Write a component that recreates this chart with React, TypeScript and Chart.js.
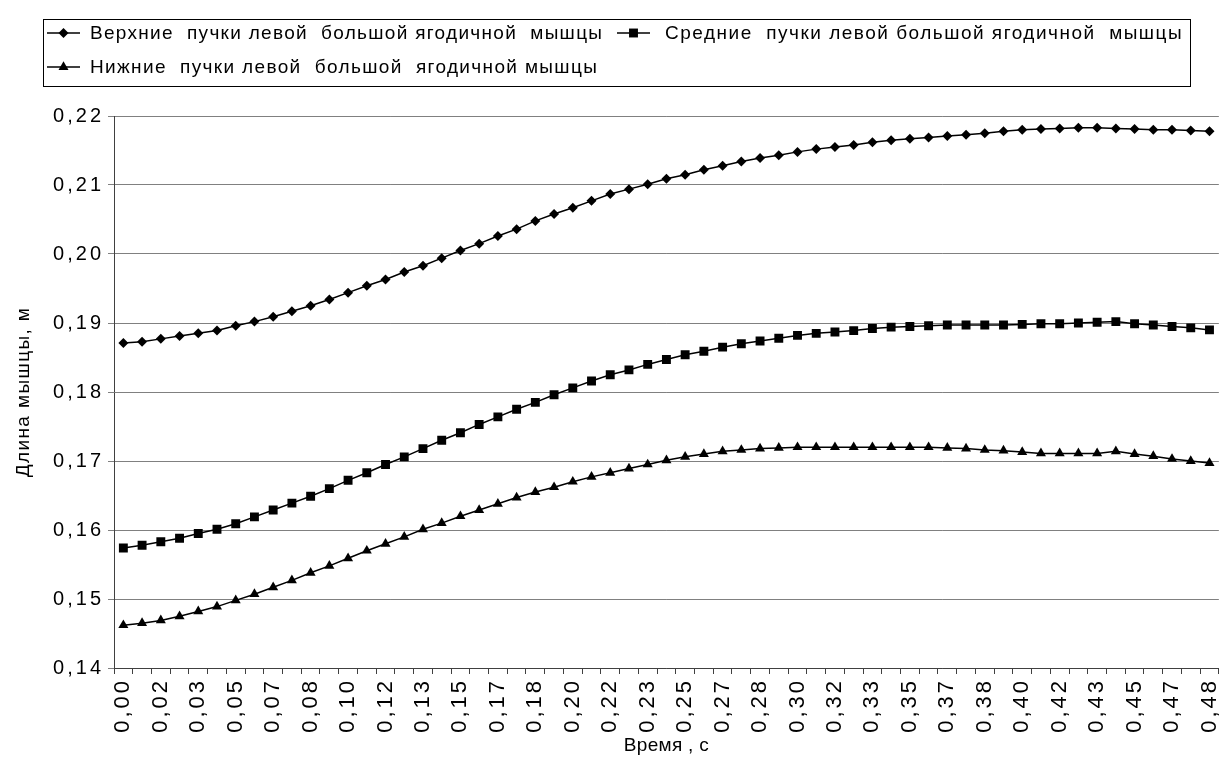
import React, { useEffect, useRef } from 'react';
import { Chart, registerables } from 'chart.js';

Chart.register(...registerables);

// Tick labels shown on every second category (time, s)
const tickLabels = [
  '0,00', '0,02', '0,03', '0,05', '0,07', '0,08', '0,10', '0,12', '0,13', '0,15',
  '0,17', '0,18', '0,20', '0,22', '0,23', '0,25', '0,27', '0,28', '0,30', '0,32',
  '0,33', '0,35', '0,37', '0,38', '0,40', '0,42', '0,43', '0,45', '0,47', '0,48',
];

const upperBundle = [
  0.1871, 0.1873, 0.1877, 0.1881, 0.1885, 0.1889, 0.1896, 0.1902, 0.1909, 0.1917,
  0.1925, 0.1934, 0.1944, 0.1954, 0.1963, 0.1974, 0.1983, 0.1994, 0.2005, 0.2015,
  0.2026, 0.2036, 0.2048, 0.2058, 0.2067, 0.2077, 0.2087, 0.2094, 0.2101, 0.2109,
  0.2115, 0.2122, 0.2128, 0.2134, 0.2139, 0.2143, 0.2148, 0.2152, 0.2155, 0.2158,
  0.2162, 0.2165, 0.2167, 0.2169, 0.2171, 0.2173, 0.2175, 0.2178, 0.2180, 0.2181,
  0.2182, 0.2183, 0.2183, 0.2182, 0.2181, 0.2180, 0.2180, 0.2179, 0.2178,
];

const middleBundle = [
  0.1574, 0.1578, 0.1583, 0.1588, 0.1595, 0.1601, 0.1609, 0.1619, 0.1629, 0.1639,
  0.1649, 0.1660, 0.1672, 0.1683, 0.1695, 0.1706, 0.1718, 0.1730, 0.1741, 0.1753,
  0.1764, 0.1775, 0.1785, 0.1796, 0.1806, 0.1816, 0.1825, 0.1832, 0.1840, 0.1847,
  0.1854, 0.1859, 0.1865, 0.1870, 0.1874, 0.1878, 0.1882, 0.1885, 0.1887, 0.1889,
  0.1892, 0.1894, 0.1895, 0.1896, 0.1897, 0.1897, 0.1897, 0.1897, 0.1898, 0.1899,
  0.1899, 0.1900, 0.1901, 0.1902, 0.1899, 0.1897, 0.1895, 0.1893, 0.1890,
];

const lowerBundle = [
  0.1462, 0.1465, 0.1469, 0.1475, 0.1482, 0.1489, 0.1498, 0.1507, 0.1517, 0.1527,
  0.1538, 0.1548, 0.1559, 0.1570, 0.1580, 0.1590, 0.1601, 0.1610, 0.1620, 0.1629,
  0.1638, 0.1647, 0.1655, 0.1662, 0.1670, 0.1677, 0.1683, 0.1689, 0.1695, 0.1701,
  0.1706, 0.1710, 0.1714, 0.1716, 0.1718, 0.1719, 0.1720, 0.1720, 0.1720, 0.1720,
  0.1720, 0.1720, 0.1720, 0.1720, 0.1719, 0.1718, 0.1716, 0.1715, 0.1713, 0.1711,
  0.1711, 0.1711, 0.1711, 0.1714, 0.1710, 0.1707, 0.1703, 0.1700, 0.1697,
];

const seriesNames = [
  'Верхние  пучки левой  большой ягодичной  мышцы',
  'Средние  пучки левой большой ягодичной  мышцы',
  'Нижние  пучки левой  большой  ягодичной мышцы',
];

const yTitle = 'Длина мышцы, м';
const xTitle = 'Время , с';

const yMin = 0.14;
const yMax = 0.22;
const yStep = 0.01;

// categories: one per sample, label only on every second one
const categories: string[] = [];
upperBundle.forEach((_, i) => {
  categories.push(i % 2 === 0 ? tickLabels[i / 2] : '');
});

const FONT_FAMILY = "'Liberation Sans', Arial, sans-serif";

function addSpacing(scale: any, labelSpacing: string, titleSpacing: string) {
  if (scale.__spaced) return;
  scale.__spaced = true;
  const origLabels = scale.drawLabels;
  scale.drawLabels = function (area: any) {
    const ctx = this.ctx;
    ctx.save();
    ctx.letterSpacing = labelSpacing;
    origLabels.call(this, area);
    ctx.restore();
  };
  const origTitle = scale.drawTitle;
  scale.drawTitle = function () {
    const ctx = this.ctx;
    ctx.save();
    ctx.letterSpacing = titleSpacing;
    origTitle.call(this);
    ctx.restore();
  };
}

function drawMarker(ctx: CanvasRenderingContext2D, style: string, r: number, x: number, y: number) {
  ctx.beginPath();
  if (style === 'rectRot') {
    ctx.moveTo(x - r, y);
    ctx.lineTo(x, y - r);
    ctx.lineTo(x + r, y);
    ctx.lineTo(x, y + r);
  } else if (style === 'rect') {
    const s = Math.SQRT1_2 * r;
    ctx.rect(x - s, y - s, 2 * s, 2 * s);
  } else {
    ctx.moveTo(x, y - r);
    ctx.lineTo(x + 0.866 * r, y + 0.5 * r);
    ctx.lineTo(x - 0.866 * r, y + 0.5 * r);
  }
  ctx.closePath();
  ctx.fill();
}

const legendPlugin = {
  id: 'boxLegend',
  afterDraw(chart: any) {
    const ctx: CanvasRenderingContext2D = chart.ctx;
    const positions = [
      { x: 47, y: 33, tx: 90, ls: '1.3px' },
      { x: 617, y: 33, tx: 665, ls: '1.5px' },
      { x: 47, y: 67, tx: 90, ls: '1.35px' },
    ];
    ctx.save();
    ctx.strokeStyle = '#000';
    ctx.lineWidth = 1;
    ctx.strokeRect(43.5, 19.5, 1147, 67);
    ctx.font = `19px ${FONT_FAMILY}`;
    ctx.textBaseline = 'middle';
    ctx.textAlign = 'left';
    chart.data.datasets.forEach((ds: any, i: number) => {
      const p = positions[i];
      ctx.strokeStyle = '#000';
      ctx.lineWidth = 1.5;
      ctx.beginPath();
      ctx.moveTo(p.x, p.y);
      ctx.lineTo(p.x + 33, p.y);
      ctx.stroke();
      ctx.fillStyle = '#000';
      drawMarker(ctx, ds.pointStyle, ds.pointRadius, p.x + 16.5, p.y);
      (ctx as any).letterSpacing = p.ls;
      ctx.fillText(ds.label, p.tx, p.y + 1);
      (ctx as any).letterSpacing = '0px';
    });
    ctx.restore();
  },
};

export default function App() {
  const canvasRef = useRef<HTMLCanvasElement | null>(null);

  useEffect(() => {
    if (!canvasRef.current) return;
    const chart = new Chart(canvasRef.current, {
      type: 'line',
      data: {
        labels: categories,
        datasets: [
          {
            label: seriesNames[0],
            data: upperBundle,
            borderColor: '#000',
            backgroundColor: '#000',
            borderWidth: 1.5,
            pointStyle: 'rectRot',
            pointRadius: 5,
            pointBorderWidth: 0,
            pointBackgroundColor: '#000',
            tension: 0,
          },
          {
            label: seriesNames[1],
            data: middleBundle,
            borderColor: '#000',
            backgroundColor: '#000',
            borderWidth: 1.5,
            pointStyle: 'rect',
            pointRadius: 6.3,
            pointBorderWidth: 0,
            pointBackgroundColor: '#000',
            tension: 0,
          },
          {
            label: seriesNames[2],
            data: lowerBundle,
            borderColor: '#000',
            backgroundColor: '#000',
            borderWidth: 1.5,
            pointStyle: 'triangle',
            pointRadius: 5.8,
            pointBorderWidth: 0,
            pointBackgroundColor: '#000',
            tension: 0,
          },
        ],
      },
      options: {
        responsive: false,
        devicePixelRatio: 1,
        animation: false,
        layout: { padding: { top: 116, right: 14, left: 0, bottom: 0 } },
        plugins: {
          legend: { display: false },
          tooltip: { enabled: false },
        },
        scales: {
          x: {
            type: 'category',
            offset: true,
            grid: {
              offset: true,
              drawOnChartArea: false,
              drawTicks: true,
              tickLength: 6,
              color: '#404040',
              lineWidth: 1,
            },
            border: { display: true, color: '#404040', width: 1 },
            ticks: {
              autoSkip: false,
              maxRotation: 90,
              minRotation: 90,
              padding: 4,
              color: '#000',
              font: { family: FONT_FAMILY, size: 22 },
              callback: function (this: any, value: any) {
                return this.getLabelForValue(value);
              },
            },
            title: {
              display: true,
              text: xTitle,
              color: '#000',
              font: { family: FONT_FAMILY, size: 19 },
              padding: { top: 0, bottom: 12 },
            },
            afterFit(scale: any) {
              scale.height = 101;
              addSpacing(scale, '3px', '0.3px');
            },
          },
          y: {
            min: yMin,
            max: yMax,
            ticks: {
              stepSize: yStep,
              padding: 4,
              color: '#000',
              font: { family: FONT_FAMILY, size: 20 },
              callback: (v: any) => Number(v).toFixed(2).replace('.', ','),
            },
            grid: { color: '#808080', lineWidth: 1, tickLength: 6 },
            border: { display: true, color: '#404040', width: 1 },
            title: {
              display: true,
              text: yTitle,
              color: '#000',
              font: { family: FONT_FAMILY, size: 19 },
              padding: { top: 12, bottom: 0 },
            },
            afterFit(scale: any) {
              scale.width = 114;
              addSpacing(scale, '3px', '1.4px');
            },
          },
        },
      },
      plugins: [legendPlugin],
    } as any);
    return () => chart.destroy();
  }, []);

  return (
    <div
      style={{
        position: 'absolute',
        left: 0,
        top: 0,
        width: 1221,
        height: 769,
        overflow: 'hidden',
        background: '#fff',
      }}
    >
      <canvas ref={canvasRef} width={1240} height={769} style={{ display: 'block' }} />
    </div>
  );
}
